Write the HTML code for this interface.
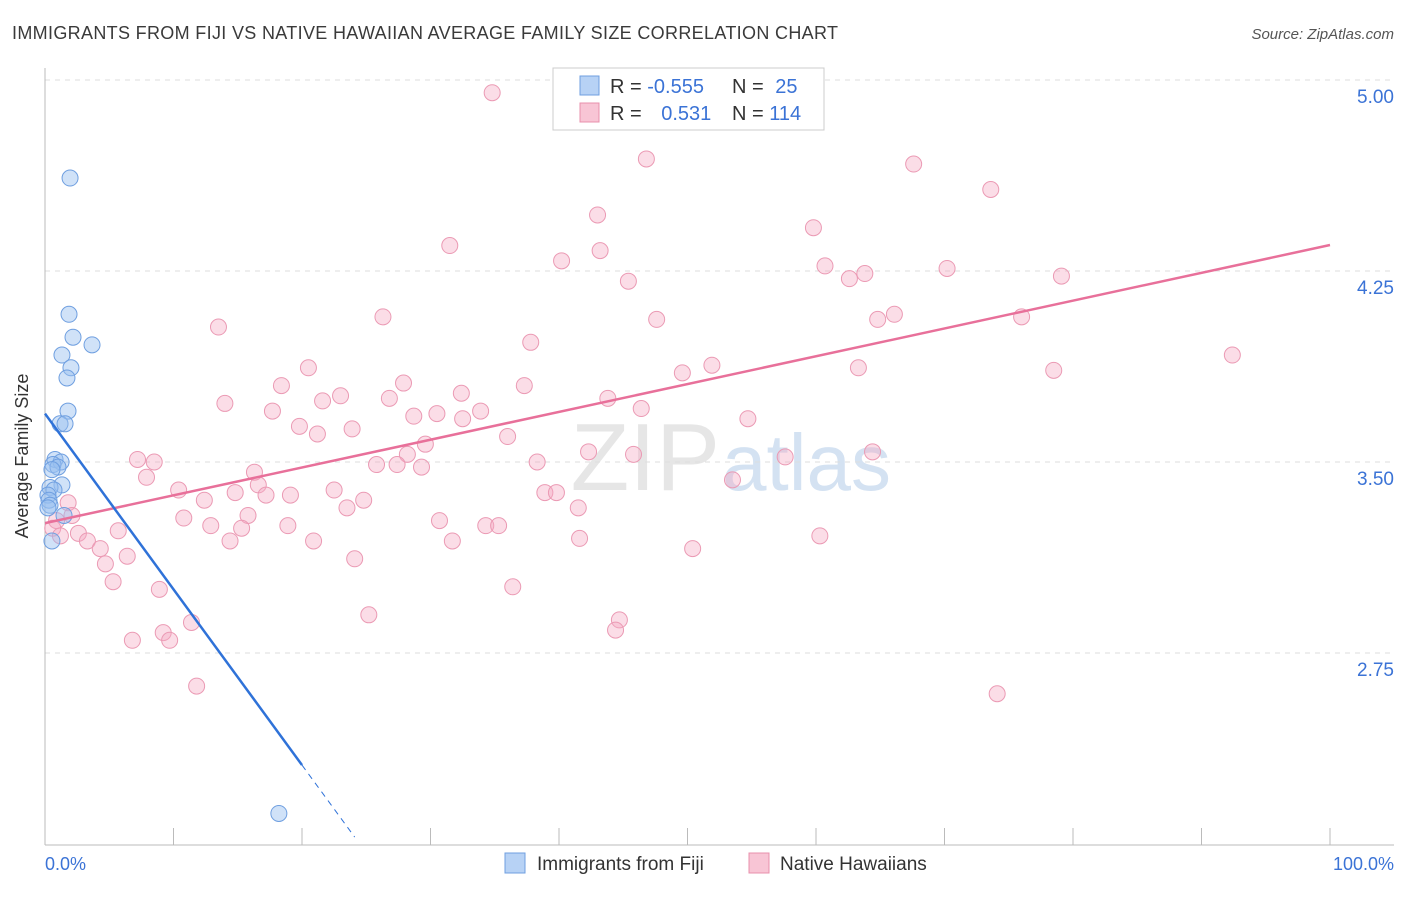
<!DOCTYPE html>
<html><head><meta charset="utf-8"><style>
body{margin:0;background:#fff;font-family:"Liberation Sans",sans-serif;}
svg text{font-family:"Liberation Sans",sans-serif;}
</style></head><body>
<svg id="chart" width="1406" height="892">
<text x="12" y="39" font-size="18" fill="#3a3a3a" textLength="826">IMMIGRANTS FROM FIJI VS NATIVE HAWAIIAN AVERAGE FAMILY SIZE CORRELATION CHART</text>
<text x="1394" y="39" font-size="15" fill="#555" text-anchor="end" font-style="italic">Source: ZipAtlas.com</text>
<text x="720" y="490" font-size="96" fill="#e6e6e6" text-anchor="end" font-family="Liberation Serif">ZIP</text>
<text x="722" y="490" font-size="80" fill="#d4e2f2">atlas</text>
<g id="grid"></g><g id="axes"></g><g id="pts"></g><g id="lines"></g>
<text x="28" y="456" font-size="18" fill="#333" text-anchor="middle" transform="rotate(-90 28 456)">Average Family Size</text>
<text x="45" y="870" font-size="18" fill="#3b73d6">0.0%</text>
<text x="1394" y="870" font-size="18" fill="#3b73d6" text-anchor="end">100.0%</text>
<g>
<rect x="553" y="68" width="271" height="62" fill="#fff" stroke="#ccc"/>
<rect x="580" y="76" width="19" height="19" fill="#b7d2f5" stroke="#6f9fe0"/>
<rect x="580" y="103" width="19" height="19" fill="#f8c5d5" stroke="#e890ac"/>
<text x="610" y="93" font-size="20" fill="#333">R = <tspan fill="#3b73d6">-0.555</tspan></text>
<text x="732" y="93" font-size="20" fill="#333">N = <tspan fill="#3b73d6" dx="6">25</tspan></text>
<text x="610" y="120" font-size="20" fill="#333">R = <tspan fill="#3b73d6" dx="14">0.531</tspan></text>
<text x="732" y="120" font-size="20" fill="#333">N = <tspan fill="#3b73d6">114</tspan></text>
</g>
<g>
<rect x="505" y="853" width="20" height="20" fill="#b7d2f5" stroke="#6f9fe0"/>
<text x="537" y="870" font-size="19" fill="#333">Immigrants from Fiji</text>
<rect x="749" y="853" width="20" height="20" fill="#f8c5d5" stroke="#e890ac"/>
<text x="780" y="870" font-size="19" fill="#333">Native Hawaiians</text>
</g>
</svg>
<script>
const yTicks=[5.00,4.25,3.50,2.75];
const fijiX=[1.95,1.87,2.18,3.66,1.32,2.02,1.71,1.79,1.17,1.56,0.78,1.25,0.62,1.01,0.54,1.32,0.39,0.70,0.23,0.31,0.39,1.48,0.23,0.54,18.2];
const fijiY=[4.615,4.08,3.99,3.96,3.92,3.87,3.83,3.70,3.65,3.65,3.51,3.50,3.49,3.48,3.47,3.41,3.40,3.39,3.37,3.35,3.33,3.29,3.32,3.19,2.12];
const hawX=[34.8,46.8,67.6,73.6,43.0,31.5,43.2,59.8,40.2,45.4,60.7,62.6,63.8,70.2,79.1,13.5,26.3,47.6,64.8,66.1,76.0,37.8,92.4,20.5,51.9,49.6,63.3,78.5,18.4,27.9,37.3,14.0,23.0,21.6,26.8,32.4,43.8,46.4,17.7,28.7,30.5,33.9,32.5,54.7,19.8,21.2,23.9,29.6,36.0,28.2,42.3,45.8,57.6,64.4,7.2,8.5,25.8,27.4,29.3,38.3,16.3,7.9,16.6,10.4,22.5,14.8,12.4,17.2,19.1,38.9,39.8,53.5,24.8,23.5,41.5,1.8,15.8,10.8,12.9,15.3,18.9,30.7,34.3,35.3,2.1,0.9,0.6,1.2,5.7,2.6,3.3,4.3,14.4,20.9,31.7,41.6,50.4,60.3,6.4,4.7,24.1,5.3,8.9,36.4,25.2,44.7,44.4,9.2,6.8,9.7,11.4,11.8,74.1];
const hawY=[4.95,4.69,4.67,4.57,4.47,4.35,4.33,4.42,4.29,4.21,4.27,4.22,4.24,4.26,4.23,4.03,4.07,4.06,4.06,4.08,4.07,3.97,3.92,3.87,3.88,3.85,3.87,3.86,3.80,3.81,3.80,3.73,3.76,3.74,3.75,3.77,3.75,3.71,3.70,3.68,3.69,3.70,3.67,3.67,3.64,3.61,3.63,3.57,3.60,3.53,3.54,3.53,3.52,3.54,3.51,3.50,3.49,3.49,3.48,3.50,3.46,3.44,3.41,3.39,3.39,3.38,3.35,3.37,3.37,3.38,3.38,3.43,3.35,3.32,3.32,3.34,3.29,3.28,3.25,3.24,3.25,3.27,3.25,3.25,3.29,3.27,3.24,3.21,3.23,3.22,3.19,3.16,3.19,3.19,3.19,3.20,3.16,3.21,3.13,3.10,3.12,3.03,3.00,3.01,2.90,2.88,2.84,2.83,2.80,2.80,2.87,2.62,2.59];
const fijiLine=[3.69,-0.069];
const hawLine=[3.26,0.01092];
const NS='http://www.w3.org/2000/svg';
const X=p=>45+p*12.85, Y=v=>80+(5-v)*254.67;
function mk(t,a,parent){const e=document.createElementNS(NS,t);for(const k in a)e.setAttribute(k,a[k]);document.getElementById(parent).appendChild(e);return e;}
yTicks.forEach(v=>{
 const g=mk('line',{x1:45,x2:1394,y1:Y(v),y2:Y(v),stroke:'#ddd','stroke-dasharray':'5,5'},'grid');
 
 
 const t=mk('text',{x:1394,y:Y(v)+23,'font-size':19,fill:'#3b73d6','text-anchor':'end'},'grid');
 t.textContent=v.toFixed(2);
 
 
});
const ax=mk('line',{x1:45,x2:1394,y1:845,y2:845,stroke:'#bbb'},'axes');


const ay=mk('line',{x1:45,x2:45,y1:68,y2:845,stroke:'#bbb'},'axes');


for(let i=0;i<=10;i++){const t=mk('line',{x1:X(i*10),x2:X(i*10),y1:828,y2:845,stroke:'#bbb'},'axes');
 
 }
hawX.forEach((x,i)=>{const c=mk('circle',{cx:X(x),cy:Y(hawY[i]),r:8,fill:'rgba(244,170,195,0.4)',stroke:'#eb9ab4','stroke-width':1},'pts');
 
 });
fijiX.forEach((x,i)=>{const c=mk('circle',{cx:X(x),cy:Y(fijiY[i]),r:8,fill:'rgba(150,190,240,0.45)',stroke:'#6f9fe0','stroke-width':1},'pts');
 
 });
const hl=mk('line',{x1:X(0),y1:Y(hawLine[0]),x2:X(100),y2:Y(hawLine[0]+hawLine[1]*100),stroke:'#e8709a','stroke-width':2.5},'lines');


const fl=mk('line',{x1:X(0),y1:Y(fijiLine[0]),x2:X(20),y2:Y(fijiLine[0]+fijiLine[1]*20),stroke:'#2f72d8','stroke-width':2.5},'lines');


const fd=mk('line',{x1:X(20),y1:Y(fijiLine[0]+fijiLine[1]*20),x2:X(24.1),y2:Y(fijiLine[0]+fijiLine[1]*24.1),stroke:'#2f72d8','stroke-width':1,'stroke-dasharray':'6,5'},'lines');


</script>
</body></html>
